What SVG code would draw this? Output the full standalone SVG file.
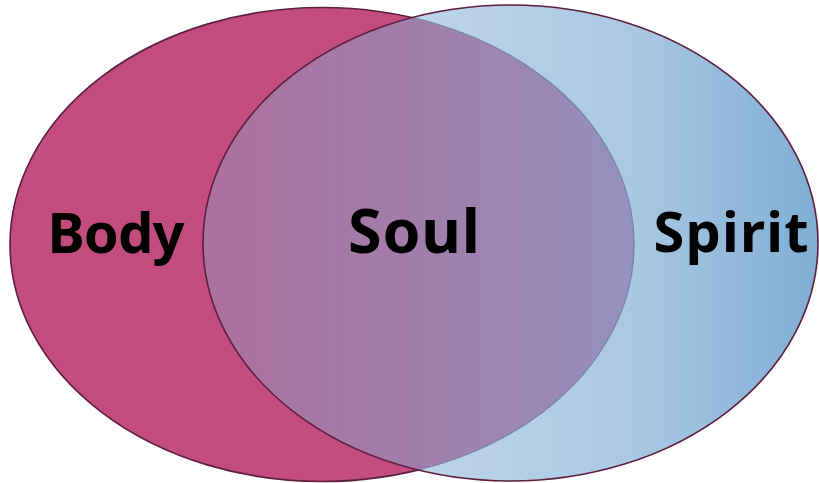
<svg xmlns="http://www.w3.org/2000/svg" width="819" height="483" viewBox="0 0 819 483">
  <style>
    .lbl { font-family: "Comic Sans MS", "Noto Sans", "DejaVu Sans", sans-serif; font-weight: bold; font-size: 56px; fill: #000; text-anchor: middle; }
    .big { font-size: 61px; }
    .edge { fill: none; stroke: #5E1E3E; stroke-width: 1.6; }
  </style>
  <defs>
    <linearGradient id="blue" gradientUnits="userSpaceOnUse" x1="203" y1="0" x2="818" y2="0">
      <stop offset="0" stop-color="#D2E3F1"/>
      <stop offset="0.35" stop-color="#BDD4E9"/>
      <stop offset="0.7" stop-color="#AAC8E3"/>
      <stop offset="1" stop-color="#7FADD5"/>
    </linearGradient>
    <linearGradient id="mix" gradientUnits="userSpaceOnUse" x1="203" y1="0" x2="634" y2="0">
      <stop offset="0" stop-color="#AC709F"/>
      <stop offset="0.5" stop-color="#A17EAA"/>
      <stop offset="1" stop-color="#9591BE"/>
    </linearGradient>
    <clipPath id="clipLeft">
      <ellipse cx="322" cy="244.5" rx="312" ry="237"/>
    </clipPath>
    <clipPath id="clipRight">
      <ellipse cx="510.5" cy="243" rx="307.5" ry="238"/>
    </clipPath>
  </defs>

  <g id="body">
    <ellipse cx="322" cy="244.5" rx="312" ry="237" fill="#C24C7E" stroke="#5E1E3E" stroke-width="1.6"/>
  </g>

  <g id="spirit">
    <ellipse cx="510.5" cy="243" rx="307.5" ry="238" fill="url(#blue)"/>
  </g>

  <g id="soul">
    <ellipse cx="510.5" cy="243" rx="307.5" ry="238" fill="url(#mix)" clip-path="url(#clipLeft)"/>
    <ellipse cx="322" cy="244.5" rx="312" ry="237" fill="none" stroke="#7C86A8" stroke-width="1.4" clip-path="url(#clipRight)"/>
    <ellipse class="edge" cx="510.5" cy="243" rx="307.5" ry="238"/>
  </g>

  <g id="labels">
    <text class="lbl" x="116" y="253" textLength="137">Body</text>
    <text class="lbl big" x="414" y="253" textLength="132">Soul</text>
    <text class="lbl" x="731" y="252" textLength="155">Spirit</text>
  </g>
</svg>
